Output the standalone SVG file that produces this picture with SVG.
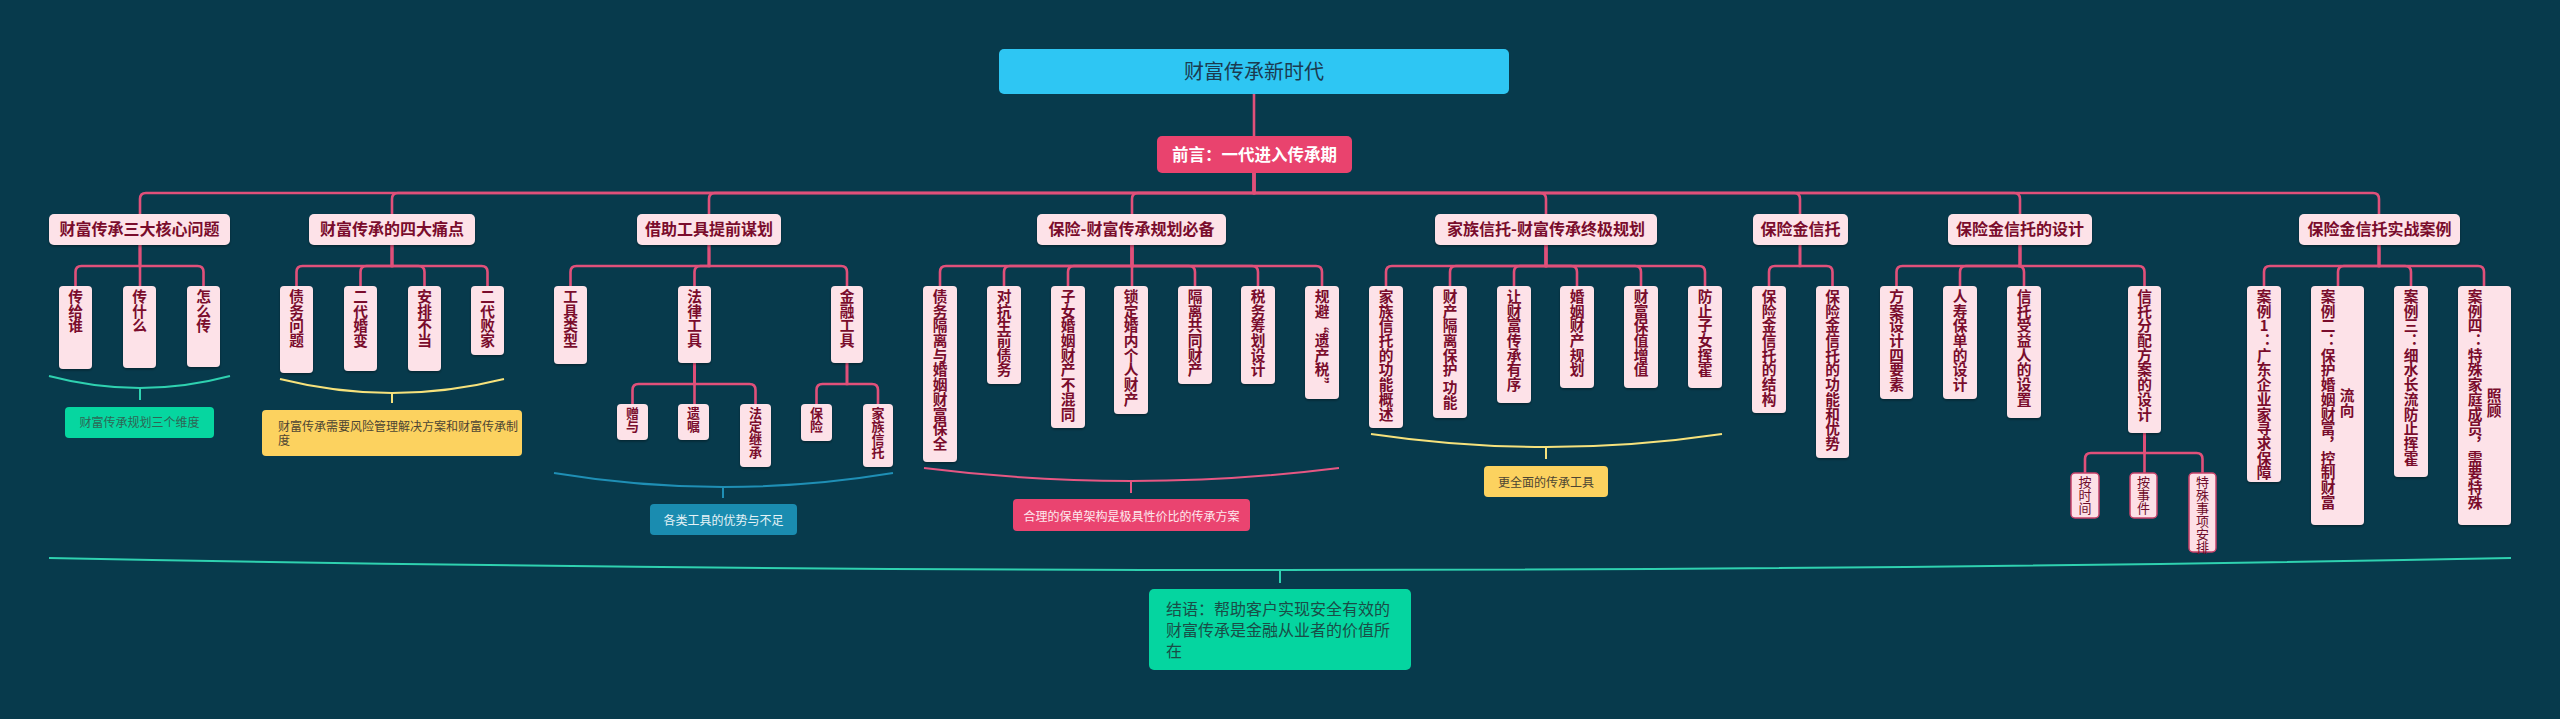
<svg xmlns="http://www.w3.org/2000/svg" width="2560" height="719" viewBox="0 0 2560 719">
<defs>
<filter id="sh" x="-20%" y="-20%" width="140%" height="140%">
<feDropShadow dx="0" dy="1.5" stdDeviation="0.8" flood-color="#000" flood-opacity="0.35"/>
</filter>
<style>
text{font-family:"Noto Sans CJK SC","Noto Sans",sans-serif;}
.bg{fill:#073a4c;}
.c{fill:none;stroke:#e0507a;stroke-width:2.6;stroke-linecap:round;}
.n{fill:#fde2e8;filter:url(#sh);}
.n3{fill:#fde0e6;stroke:#c8416a;stroke-width:1.5;}
.t1{font-size:16px;font-weight:700;fill:#7a0c2c;text-anchor:middle;}
.v{font-size:14.7px;font-weight:700;fill:#7a0c2c;writing-mode:vertical-rl;}
.v3{font-size:13px;font-weight:700;fill:#7a0c2c;writing-mode:vertical-rl;}
.v4{font-size:13px;font-weight:400;fill:#6e0b2a;writing-mode:vertical-rl;}
.s{font-size:12px;}
.br{fill:none;stroke-width:2;}
</style>
</defs>
<rect class="bg" x="0" y="0" width="2560" height="719"/>

<g id="connectors">
<path class="c" d="M1254 94 V136"/>
<path class="c" d="M1254 173 V193 H146 Q140 193 140 199 V214"/>
<path class="c" d="M1254 173 V193 H398 Q392 193 392 199 V214"/>
<path class="c" d="M1254 173 V193 H715 Q709 193 709 199 V214"/>
<path class="c" d="M1254 173 V193 H1138 Q1132 193 1132 199 V214"/>
<path class="c" d="M1254 173 V193 H1540 Q1546 193 1546 199 V214"/>
<path class="c" d="M1254 173 V193 H1794 Q1800 193 1800 199 V214"/>
<path class="c" d="M1254 173 V193 H2014 Q2020 193 2020 199 V214"/>
<path class="c" d="M1254 173 V193 H2373 Q2379 193 2379 199 V214"/>
<!-- G1 -->
<path class="c" d="M140 245 V266 H81.5 Q75.5 266 75.5 272 V286"/>
<path class="c" d="M140 245 V286"/>
<path class="c" d="M140 245 V266 H197.5 Q203.5 266 203.5 272 V286"/>
<!-- G2 -->
<path class="c" d="M392 245 V266 H302.5 Q296.5 266 296.5 272 V286"/>
<path class="c" d="M392 245 V266 H366.5 Q360.5 266 360.5 272 V286"/>
<path class="c" d="M392 245 V266 H418.5 Q424.5 266 424.5 272 V286"/>
<path class="c" d="M392 245 V266 H481.5 Q487.5 266 487.5 272 V286"/>
<!-- G3 -->
<path class="c" d="M709 245 V266 H576.5 Q570.5 266 570.5 272 V286"/>
<path class="c" d="M709 245 V266 H700.5 Q694.5 266 694.5 272 V286"/>
<path class="c" d="M709 245 V266 H841 Q847 266 847 272 V286"/>
<path class="c" d="M694.5 363 V384 H638.5 Q632.5 384 632.5 390 V404"/>
<path class="c" d="M694.5 363 V404"/>
<path class="c" d="M694.5 363 V384 H749.5 Q755.5 384 755.5 390 V404"/>
<path class="c" d="M847 363 V384 H822.5 Q816.5 384 816.5 390 V404"/>
<path class="c" d="M847 363 V384 H872 Q878 384 878 390 V404"/>
<!-- G4 -->
<path class="c" d="M1132 245 V266 H946 Q940 266 940 272 V286"/>
<path class="c" d="M1132 245 V266 H1010 Q1004 266 1004 272 V286"/>
<path class="c" d="M1132 245 V266 H1074 Q1068 266 1068 272 V286"/>
<path class="c" d="M1132 245 V286"/>
<path class="c" d="M1132 245 V266 H1189 Q1195 266 1195 272 V286"/>
<path class="c" d="M1132 245 V266 H1252 Q1258 266 1258 272 V286"/>
<path class="c" d="M1132 245 V266 H1316 Q1322 266 1322 272 V286"/>
<!-- G5 -->
<path class="c" d="M1546 245 V266 H1392 Q1386 266 1386 272 V286"/>
<path class="c" d="M1546 245 V266 H1456 Q1450 266 1450 272 V286"/>
<path class="c" d="M1546 245 V266 H1520 Q1514 266 1514 272 V286"/>
<path class="c" d="M1546 245 V266 H1571 Q1577 266 1577 272 V286"/>
<path class="c" d="M1546 245 V266 H1635 Q1641 266 1641 272 V286"/>
<path class="c" d="M1546 245 V266 H1699 Q1705 266 1705 272 V286"/>
<!-- G6 -->
<path class="c" d="M1800 245 V266 H1775 Q1769 266 1769 272 V286"/>
<path class="c" d="M1800 245 V266 H1826.5 Q1832.5 266 1832.5 272 V286"/>
<!-- G7 -->
<path class="c" d="M2020 245 V266 H1902.5 Q1896.5 266 1896.5 272 V286"/>
<path class="c" d="M2020 245 V266 H1966 Q1960 266 1960 272 V286"/>
<path class="c" d="M2020 245 V266 H2018 Q2024 266 2024 272 V286"/>
<path class="c" d="M2020 245 V266 H2138.5 Q2144.5 266 2144.5 272 V286"/>
<path class="c" d="M2144.5 433 V453 H2091 Q2085 453 2085 459 V473"/>
<path class="c" d="M2144.5 433 V473"/>
<path class="c" d="M2144.5 433 V453 H2196.5 Q2202.5 453 2202.5 459 V473"/>
<!-- G8 -->
<path class="c" d="M2379 245 V266 H2270 Q2264 266 2264 272 V286"/>
<path class="c" d="M2379 245 V266 H2344 Q2338 266 2338 272 V286"/>
<path class="c" d="M2379 245 V266 H2405 Q2411 266 2411 272 V286"/>
<path class="c" d="M2379 245 V266 H2478 Q2484 266 2484 272 V286"/>
<!-- summary braces -->
<path class="br" stroke="#2fd1b0" d="M49 376 Q140 400 230 376 M140 388 V400"/>
<path class="br" stroke="#f6e27c" d="M280 379 Q392 407 504 379 M392 393 V403"/>
<path class="br" stroke="#1f8fb5" d="M554 473 Q723 501 893 473 M723 487 V498"/>
<path class="br" stroke="#e65783" d="M924 468 Q1131 494 1339 468 M1131 481 V493"/>
<path class="br" stroke="#f6e27c" d="M1371 434 Q1546 460 1722 434 M1546 447 V459"/>
<path class="br" stroke="#2fd1b0" d="M49 558 Q1280 582 2511 558 M1280 570 V583"/>
</g>

<g id="root">
<rect x="999" y="49" width="510" height="45" rx="5" fill="#2ec6f3"/>
<text x="1254" y="79" font-size="20" fill="#1b3a50" text-anchor="middle">财富传承新时代</text>
</g>
<g id="preface">
<rect x="1157" y="136" width="195" height="37" rx="5" fill="#e9436e"/>
<text x="1254.5" y="161" font-size="16.5" font-weight="700" fill="#ffffff" text-anchor="middle">前言：一代进入传承期</text>
</g>

<g id="l1-core">
<rect class="n" x="49" y="214" width="181" height="31" rx="5"/>
<text class="t1" x="139.5" y="235">财富传承三大核心问题</text>
</g>
<g id="l1-pain">
<rect class="n" x="309" y="214" width="166" height="31" rx="5"/>
<text class="t1" x="392" y="235">财富传承的四大痛点</text>
</g>
<g id="l1-tools">
<rect class="n" x="637" y="214" width="144" height="31" rx="5"/>
<text class="t1" x="709" y="235">借助工具提前谋划</text>
</g>
<g id="l1-ins">
<rect class="n" x="1037" y="214" width="189" height="31" rx="5"/>
<text class="t1" x="1131.5" y="235">保险-财富传承规划必备</text>
</g>
<g id="l1-trust">
<rect class="n" x="1435" y="214" width="222" height="31" rx="5"/>
<text class="t1" x="1546" y="235">家族信托-财富传承终极规划</text>
</g>
<g id="l1-it">
<rect class="n" x="1753" y="214" width="95" height="31" rx="5"/>
<text class="t1" x="1800.5" y="235">保险金信托</text>
</g>
<g id="l1-itd">
<rect class="n" x="1948" y="214" width="144" height="31" rx="5"/>
<text class="t1" x="2020" y="235">保险金信托的设计</text>
</g>
<g id="l1-case">
<rect class="n" x="2299" y="214" width="161" height="31" rx="5"/>
<text class="t1" x="2379.5" y="235">保险金信托实战案例</text>
</g>

<!-- G1 leaves -->
<g id="n-g1a"><rect class="n" x="59" y="286" width="33" height="83" rx="4"/><text class="v" x="75.5" y="289">传给谁</text></g>
<g id="n-g1b"><rect class="n" x="123" y="286" width="33" height="82" rx="4"/><text class="v" x="139.5" y="289">传什么</text></g>
<g id="n-g1c"><rect class="n" x="187" y="286" width="33" height="81" rx="4"/><text class="v" x="203.5" y="289">怎么传</text></g>
<!-- G2 -->
<g id="n-g2a"><rect class="n" x="280" y="286" width="33" height="87" rx="4"/><text class="v" x="296.5" y="289">债务问题</text></g>
<g id="n-g2b"><rect class="n" x="344" y="286" width="33" height="85" rx="4"/><text class="v" x="360.5" y="289">二代婚变</text></g>
<g id="n-g2c"><rect class="n" x="408" y="286" width="33" height="85" rx="4"/><text class="v" x="424.5" y="289">安排不当</text></g>
<g id="n-g2d"><rect class="n" x="471" y="286" width="33" height="69" rx="4"/><text class="v" x="487.5" y="289">二代败家</text></g>
<!-- G3 -->
<g id="n-g3a"><rect class="n" x="554" y="286" width="33" height="78" rx="4"/><text class="v" x="570.5" y="289">工具类型</text></g>
<g id="n-g3b"><rect class="n" x="678" y="286" width="33" height="77" rx="4"/><text class="v" x="694.5" y="289">法律工具</text></g>
<g id="n-g3c"><rect class="n" x="831" y="286" width="32" height="77" rx="4"/><text class="v" x="847" y="289">金融工具</text></g>
<g id="n-g3b1"><rect class="n" x="617" y="404" width="31" height="36" rx="4"/><text class="v3" x="632.5" y="407">赠与</text></g>
<g id="n-g3b2"><rect class="n" x="678" y="404" width="31" height="36" rx="4"/><text class="v3" x="693.5" y="407">遗嘱</text></g>
<g id="n-g3b3"><rect class="n" x="740" y="404" width="31" height="63" rx="4"/><text class="v3" x="755.5" y="407">法定继承</text></g>
<g id="n-g3c1"><rect class="n" x="801" y="404" width="31" height="37" rx="4"/><text class="v3" x="816.5" y="407">保险</text></g>
<g id="n-g3c2"><rect class="n" x="863" y="404" width="30" height="63" rx="4"/><text class="v3" x="878" y="407">家族信托</text></g>
<!-- G4 -->
<g id="n-g4a"><rect class="n" x="923" y="286" width="34" height="176" rx="4"/><text class="v" x="940" y="289">债务隔离与婚姻财富保全</text></g>
<g id="n-g4b"><rect class="n" x="987" y="286" width="34" height="98" rx="4"/><text class="v" x="1004" y="289">对抗生前债务</text></g>
<g id="n-g4c"><rect class="n" x="1051" y="286" width="34" height="142" rx="4"/><text class="v" x="1068" y="289">子女婚姻财产不混同</text></g>
<g id="n-g4d"><rect class="n" x="1114" y="286" width="34" height="128" rx="4"/><text class="v" x="1131" y="289">锁定婚内个人财产</text></g>
<g id="n-g4e"><rect class="n" x="1178" y="286" width="34" height="98" rx="4"/><text class="v" x="1195" y="289">隔离共同财产</text></g>
<g id="n-g4f"><rect class="n" x="1241" y="286" width="34" height="98" rx="4"/><text class="v" x="1258" y="289">税务筹划设计</text></g>
<g id="n-g4g"><rect class="n" x="1305" y="286" width="34" height="113" rx="4"/><text class="v" x="1322" y="289">规避“遗产税”</text></g>
<!-- G5 -->
<g id="n-g5a"><rect class="n" x="1369" y="286" width="34" height="142" rx="4"/><text class="v" x="1386" y="289">家族信托的功能概述</text></g>
<g id="n-g5b"><rect class="n" x="1433" y="286" width="34" height="132" rx="4"/><text class="v" x="1450" y="289">财产隔离保护 功能</text></g>
<g id="n-g5c"><rect class="n" x="1497" y="286" width="34" height="117" rx="4"/><text class="v" x="1514" y="289">让财富传承有序</text></g>
<g id="n-g5d"><rect class="n" x="1560" y="286" width="34" height="102" rx="4"/><text class="v" x="1577" y="289">婚姻财产规划</text></g>
<g id="n-g5e"><rect class="n" x="1624" y="286" width="34" height="102" rx="4"/><text class="v" x="1641" y="289">财富保值增值</text></g>
<g id="n-g5f"><rect class="n" x="1688" y="286" width="34" height="102" rx="4"/><text class="v" x="1705" y="289">防止子女挥霍</text></g>
<!-- G6 -->
<g id="n-g6a"><rect class="n" x="1752" y="286" width="34" height="127" rx="4"/><text class="v" x="1769" y="289">保险金信托的结构</text></g>
<g id="n-g6b"><rect class="n" x="1816" y="286" width="33" height="172" rx="4"/><text class="v" x="1832.5" y="289">保险金信托的功能和优势</text></g>
<!-- G7 -->
<g id="n-g7a"><rect class="n" x="1880" y="286" width="33" height="113" rx="4"/><text class="v" x="1896.5" y="289">方案设计四要素</text></g>
<g id="n-g7b"><rect class="n" x="1943" y="286" width="34" height="113" rx="4"/><text class="v" x="1960" y="289">人寿保单的设计</text></g>
<g id="n-g7c"><rect class="n" x="2007" y="286" width="34" height="132" rx="4"/><text class="v" x="2024" y="289">信托受益人的设置</text></g>
<g id="n-g7d"><rect class="n" x="2128" y="286" width="33" height="147" rx="4"/><text class="v" x="2144.5" y="289">信托分配方案的设计</text></g>
<g id="n-g7d1"><rect class="n3" x="2071" y="473" width="28" height="45" rx="4"/><text class="v4" x="2085" y="476">按时间</text></g>
<g id="n-g7d2"><rect class="n3" x="2130" y="473" width="27" height="45" rx="4"/><text class="v4" x="2143.5" y="476">按事件</text></g>
<g id="n-g7d3"><rect class="n3" x="2189" y="473" width="27" height="79" rx="4"/><text class="v4" x="2202.5" y="476">特殊事项安排</text></g>
<!-- G8 -->
<g id="n-g8a"><rect class="n" x="2247" y="286" width="34" height="196" rx="4"/><text class="v" x="2264" y="289" style="text-orientation:upright">案例1：广东企业家寻求保障</text></g>
<g id="n-g8b"><rect class="n" x="2311" y="286" width="53" height="239" rx="4"/><text class="v" x="2328" y="289">案例二：保护婚姻财富，控制财富</text><text class="v" x="2347" y="388">流向</text></g>
<g id="n-g8c"><rect class="n" x="2394" y="286" width="34" height="191" rx="4"/><text class="v" x="2411" y="289">案例三：细水长流防止挥霍</text></g>
<g id="n-g8d"><rect class="n" x="2458" y="286" width="53" height="239" rx="4"/><text class="v" x="2475" y="289">案例四：特殊家庭成员，需要特殊</text><text class="v" x="2494" y="388">照顾</text></g>

<!-- summaries -->
<g id="sum-1">
<rect x="65" y="407" width="149" height="31" rx="4" fill="#06d6a0"/>
<text class="s" x="139.5" y="427" fill="#2e6655" text-anchor="middle">财富传承规划三个维度</text>
</g>
<g id="sum-2">
<rect x="262" y="410" width="260" height="46" rx="4" fill="#fcd25f"/>
<text class="s" x="278" y="431" fill="#4d4533">财富传承需要风险管理解决方案和财富传承制</text>
<text class="s" x="278" y="445" fill="#4d4533">度</text>
</g>
<g id="sum-3">
<rect x="650" y="504" width="147" height="31" rx="4" fill="#1a8cb0"/>
<text class="s" x="723.5" y="524.5" fill="#e6f3f7" text-anchor="middle">各类工具的优势与不足</text>
</g>
<g id="sum-4">
<rect x="1013" y="499" width="237" height="32" rx="4" fill="#ea4470"/>
<text class="s" x="1131.5" y="520.5" fill="#fde8ee" text-anchor="middle">合理的保单架构是极具性价比的传承方案</text>
</g>
<g id="sum-5">
<rect x="1484" y="466" width="124" height="31" rx="4" fill="#fcd25f"/>
<text class="s" x="1546" y="486.5" fill="#4d4533" text-anchor="middle">更全面的传承工具</text>
</g>
<g id="conclusion">
<rect x="1149" y="589" width="262" height="81" rx="5" fill="#05d5a0"/>
<text x="1166" y="615" font-size="16" fill="#1a4d47">结语：帮助客户实现安全有效的</text>
<text x="1166" y="636" font-size="16" fill="#1a4d47">财富传承是金融从业者的价值所</text>
<text x="1166" y="657" font-size="16" fill="#1a4d47">在</text>
</g>
</svg>
